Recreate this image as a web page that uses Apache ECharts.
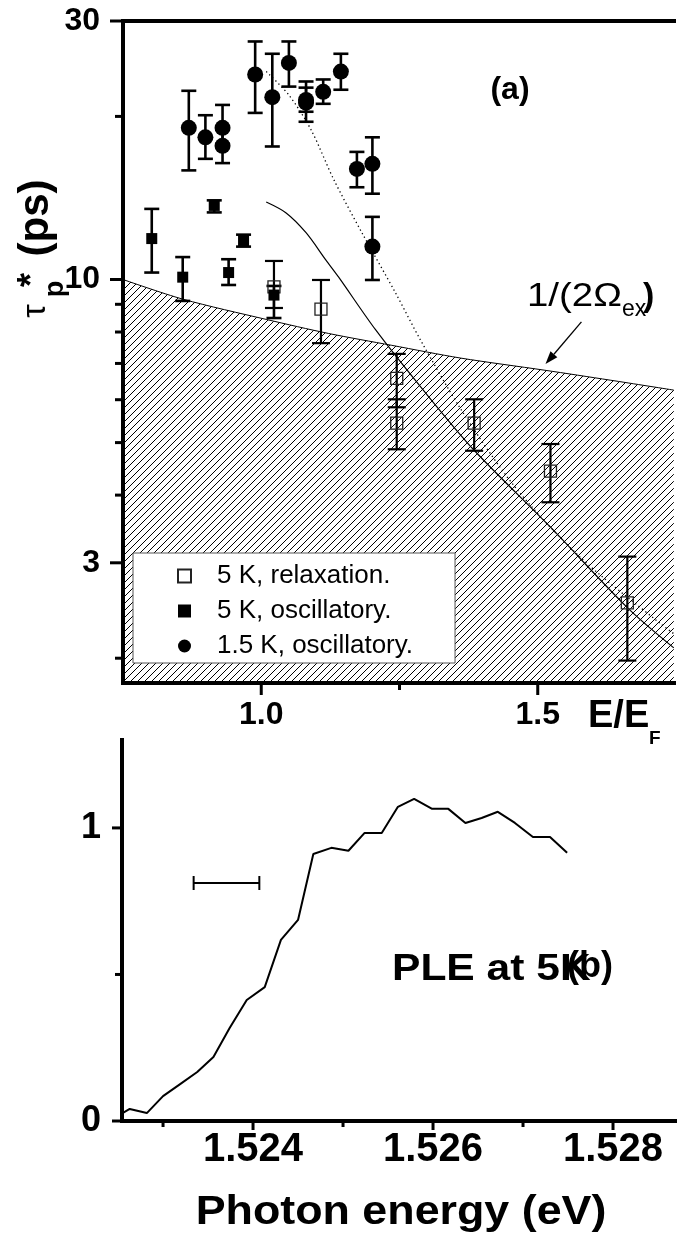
<!DOCTYPE html>
<html>
<head>
<meta charset="utf-8">
<script src="https://cdn.jsdelivr.net/npm/echarts@6/dist/echarts.min.js"></script>
<style>
html,body{margin:0;padding:0;background:#fff;}
#c{width:677px;height:1239px;}
</style>
</head>
<body>
<div id="c"></div>
<script>
const FONT = '"Liberation Sans", Arial, sans-serif';

// ---------- panel (a) data ----------
const relaxE   = [1.023, 1.108, 1.245, 1.245, 1.385, 1.523, 1.662];
const relaxTau = [9.69, 8.82, 6.57, 5.43, 5.43, 4.43, 2.53];
const relaxLo  = [8.86, 7.63, 5.81, 4.86, 4.83, 3.88, 1.98];
const relaxHi  = [10.82, 9.98, 7.29, 6.01, 6.01, 4.97, 3.08];

const osc5E   = [0.802, 0.858, 0.915, 0.941, 0.968, 1.023];
const osc5Tau = [11.9, 10.1, 13.7, 10.3, 11.8, 9.36];
const osc5Lo  = [10.3, 9.13, 13.3, 9.77, 11.5, 8.49];
const osc5Hi  = [13.5, 11.0, 14.0, 10.9, 12.1, 9.73];

const osc15E   = [0.869, 0.899, 0.930, 0.930, 0.989, 1.020, 1.050, 1.081, 1.081, 1.112, 1.144, 1.173, 1.201, 1.201];
const osc15Tau = [19.05, 18.3, 19.05, 17.65, 23.9, 21.7, 25.1, 21.45, 21.2, 22.2, 24.2, 16.0, 16.35, 11.5];
const osc15Lo  = [15.9, 16.7, 17.8, 16.4, 20.3, 17.6, 22.7, 20.4, 19.55, 21.1, 22.4, 14.8, 14.4, 9.98];
const osc15Hi  = [22.3, 20.1, 21.0, 18.9, 27.5, 26.1, 27.5, 23.2, 22.6, 23.4, 26.1, 17.2, 18.3, 13.05];

const omegaE   = [0.75, 0.858, 1.009, 1.122, 1.236, 1.361, 1.513, 1.631, 1.746];
const omegaTau = [10.0, 9.2, 8.44, 7.95, 7.56, 7.16, 6.80, 6.52, 6.25];

const solidE   = [1.009, 1.045, 1.081, 1.117, 1.140, 1.207, 1.293, 1.385, 1.523, 1.662, 1.746];
const solidTau = [13.9, 13.27, 12.2, 10.86, 10.1, 8.07, 6.25, 4.84, 3.49, 2.48, 2.09];

const dotE   = [1.009, 1.050, 1.090, 1.131, 1.182, 1.243, 1.288, 1.362, 1.459, 1.577, 1.721, 1.746];
const dotTau = [24.2, 21.9, 18.9, 15.3, 12.2, 9.44, 7.73, 5.74, 4.14, 3.07, 2.32, 2.22];

const arrowFrom = [1.579, 8.35];
const arrowTo   = [1.514, 6.98];

const tauMajor = [3, 10, 30];
const tauMinor = [2, 4, 5, 6, 7, 8, 9, 20];
const eMajor = [1.0, 1.5];
const eMinor = [1.25];

// ---------- panel (b) data ----------
const pleE = [1.52255, 1.52263, 1.52282, 1.52300, 1.52319, 1.52338, 1.52356, 1.52374, 1.52393, 1.52413,
              1.52431, 1.52450, 1.52467, 1.52487, 1.52506, 1.52524, 1.52543, 1.52561, 1.52579, 1.52599,
              1.52617, 1.52636, 1.52654, 1.52672, 1.52691, 1.52711, 1.52730, 1.52749];
const pleI = [0.027, 0.041, 0.027, 0.085, 0.126, 0.167, 0.218, 0.317, 0.413, 0.457,
              0.618, 0.686, 0.911, 0.932, 0.922, 0.983, 0.983, 1.072, 1.099, 1.065,
              1.065, 1.017, 1.034, 1.055, 1.017, 0.969, 0.969, 0.915];
const resBar = [1.52334, 1.52407, 0.812];

const phMajor = [1.524, 1.526, 1.528];
const phMinor = [1.523, 1.525, 1.527];
const pleMajor = [0, 1];
const pleMinor = [0.5];

// axis ranges
const E_MIN = 0.75, E_MAX = 1.7464, TAU_MIN = 1.8, TAU_MAX = 30;
const PH_MIN = 1.522544, PH_MAX = 1.528711, I_MIN = 0, I_MAX = 1.3;

function hatchPattern() {
  const s = 7;
  const c = document.createElement('canvas');
  c.width = s; c.height = s;
  const ctx = c.getContext('2d');
  ctx.strokeStyle = '#000';
  ctx.lineWidth = 1;
  ctx.beginPath();
  ctx.moveTo(0, s); ctx.lineTo(s, 0);
  ctx.moveTo(-2, 2); ctx.lineTo(2, -2);
  ctx.moveTo(s - 2, s + 2); ctx.lineTo(s + 2, s - 2);
  ctx.stroke();
  return c;
}

function errBar(capHalf, lw) {
  return function (params, api) {
    const x = api.value(0);
    const a = api.coord([x, api.value(1)]);
    const b = api.coord([x, api.value(2)]);
    const s = { stroke: '#000', lineWidth: lw };
    return { type: 'group', children: [
      { type: 'line', shape: { x1: a[0], y1: a[1], x2: b[0], y2: b[1] }, style: s },
      { type: 'line', shape: { x1: a[0] - capHalf, y1: a[1], x2: a[0] + capHalf, y2: a[1] }, style: s },
      { type: 'line', shape: { x1: b[0] - capHalf, y1: b[1], x2: b[0] + capHalf, y2: b[1] }, style: s }
    ]};
  };
}

// tick series: dir 'y' -> ticks pointing left from the y axis; 'x' -> ticks pointing down from the x axis
function tickSeries(xi, yi, dir, anchor, values, len, labelFmt, labelFont, gap) {
  return {
    type: 'custom', xAxisIndex: xi, yAxisIndex: yi, clip: false, silent: true, z: 6,
    data: values.map(v => dir === 'y' ? [anchor, v] : [v, anchor]),
    encode: { x: 0, y: 1 },
    renderItem: function (params, api) {
      const p = api.coord([api.value(0), api.value(1)]);
      const children = [];
      if (dir === 'y') {
        children.push({ type: 'line', shape: { x1: p[0] - len, y1: p[1], x2: p[0], y2: p[1] }, style: { stroke: '#000', lineWidth: 3 } });
        if (labelFmt) children.push({ type: 'text', x: p[0] - len - gap, y: p[1],
          style: { text: labelFmt(api.value(1)), align: 'right', verticalAlign: 'middle', font: labelFont, fill: '#000' } });
      } else {
        children.push({ type: 'line', shape: { x1: p[0], y1: p[1], x2: p[0], y2: p[1] + len }, style: { stroke: '#000', lineWidth: 3 } });
      }
      return { type: 'group', children: children };
    }
  };
}

const chart = echarts.init(document.getElementById('c'), null, { renderer: 'canvas' });

const axisLine4 = { show: true, onZero: false, lineStyle: { color: '#000', width: 4, cap: 'square' } };

const option = {
  animation: false,
  backgroundColor: '#fff',
  grid: [
    { left: 123, top: 21, width: 554, height: 662 },
    { left: 122, top: 740, width: 555, height: 381 }
  ],
  xAxis: [
    { gridIndex: 0, type: 'value', min: E_MIN, max: E_MAX, interval: 0.25, position: 'bottom',
      axisLine: axisLine4, axisTick: { show: false }, splitLine: { show: false },
      axisLabel: { margin: 16, color: '#000', fontFamily: FONT, fontSize: 32, fontWeight: 'bold',
        formatter: v => Math.abs(v - 1) < 1e-9 ? '1.0' : (Math.abs(v - 1.5) < 1e-9 ? '1.5' : '') } },
    { gridIndex: 0, type: 'value', min: E_MIN, max: E_MAX, position: 'top',
      axisLine: axisLine4, axisTick: { show: false }, axisLabel: { show: false }, splitLine: { show: false } },
    { gridIndex: 1, type: 'value', min: PH_MIN, max: PH_MAX, position: 'bottom',
      axisLine: axisLine4, axisTick: { show: false }, splitLine: { show: false },
      axisLabel: { customValues: phMajor, margin: 9, color: '#000', fontFamily: FONT, fontSize: 40, fontWeight: 'bold',
        formatter: v => Number(v).toFixed(3) } }
  ],
  yAxis: [
    { gridIndex: 0, type: 'log', logBase: 10, min: TAU_MIN, max: TAU_MAX,
      axisLine: axisLine4, axisTick: { show: false }, axisLabel: { show: false }, splitLine: { show: false } },
    { gridIndex: 1, type: 'value', min: I_MIN, max: I_MAX, interval: 0.5,
      axisLine: axisLine4, axisTick: { show: false }, splitLine: { show: false },
      axisLabel: { margin: 21, color: '#000', fontFamily: FONT, fontSize: 36, fontWeight: 'bold',
        formatter: v => Math.abs(v) < 1e-9 ? '0' : (Math.abs(v - 1) < 1e-9 ? '1' : '') } }
  ],
  legend: {
    left: 133, top: 553, orient: 'vertical', selectedMode: false, z: 10,
    backgroundColor: '#fff', borderColor: '#555', borderWidth: 1,
    padding: [10, 42, 4, 44], itemGap: 9, itemWidth: 13, itemHeight: 13,
    formatter: name => '{t|' + name + '}',
    textStyle: { color: '#000', fontFamily: FONT, fontSize: 26, lineHeight: 26,
      rich: { t: { padding: [0, 0, 0, 21], color: '#000', fontFamily: FONT, fontSize: 26, lineHeight: 26 } } },
    data: ['5 K, relaxation.', '5 K, oscillatory.', '1.5 K, oscillatory.']
  },
  series: [
    { name: 'omega', type: 'line', xAxisIndex: 0, yAxisIndex: 0, z: 1, silent: true,
      data: omegaE.map((e, i) => [e, omegaTau[i]]), smooth: 0.3, symbol: 'none',
      lineStyle: { color: '#000', width: 1 },
      areaStyle: { origin: 'start', opacity: 1, color: { image: hatchPattern(), repeat: 'repeat' } } },
    { name: 'theory', type: 'line', xAxisIndex: 0, yAxisIndex: 0, z: 2, silent: true,
      data: solidE.map((e, i) => [e, solidTau[i]]), smooth: 0.3, symbol: 'none',
      lineStyle: { color: '#000', width: 1.2 } },
    { name: 'theory2', type: 'line', xAxisIndex: 0, yAxisIndex: 0, z: 2, silent: true,
      data: dotE.map((e, i) => [e, dotTau[i]]), smooth: 0.3, symbol: 'none',
      lineStyle: { color: '#000', width: 1.3, type: [1.3, 3] } },
    { type: 'custom', xAxisIndex: 0, yAxisIndex: 0, z: 3, clip: false, silent: true,
      encode: { x: 0, y: [1, 2] }, renderItem: errBar(9, 2.2),
      data: relaxE.map((e, i) => [e, relaxLo[i], relaxHi[i]]) },
    { type: 'custom', xAxisIndex: 0, yAxisIndex: 0, z: 3, clip: false, silent: true,
      encode: { x: 0, y: [1, 2] }, renderItem: errBar(7.5, 2.6),
      data: osc5E.map((e, i) => [e, osc5Lo[i], osc5Hi[i]]) },
    { type: 'custom', xAxisIndex: 0, yAxisIndex: 0, z: 3, clip: false, silent: true,
      encode: { x: 0, y: [1, 2] }, renderItem: errBar(7.5, 2.6),
      data: osc15E.map((e, i) => [e, osc15Lo[i], osc15Hi[i]]) },
    { name: '5 K, relaxation.', type: 'scatter', xAxisIndex: 0, yAxisIndex: 0, z: 4,
      symbol: 'rect', symbolSize: 12,
      itemStyle: { color: 'rgba(255,255,255,0)', borderColor: '#222', borderWidth: 1.3, opacity: 1 },
      data: relaxE.map((e, i) => [e, relaxTau[i]]) },
    { name: '5 K, oscillatory.', type: 'scatter', xAxisIndex: 0, yAxisIndex: 0, z: 4,
      symbol: 'rect', symbolSize: 11, itemStyle: { color: '#000', opacity: 1 },
      data: osc5E.map((e, i) => [e, osc5Tau[i]]) },
    { name: '1.5 K, oscillatory.', type: 'scatter', xAxisIndex: 0, yAxisIndex: 0, z: 4,
      symbol: 'circle', symbolSize: 16, itemStyle: { color: '#000', opacity: 1 },
      data: osc15E.map((e, i) => [e, osc15Tau[i]]) },
    // arrow annotation
    { type: 'custom', xAxisIndex: 0, yAxisIndex: 0, z: 5, clip: false, silent: true,
      encode: { x: [0, 2], y: [1, 3] },
      data: [[arrowFrom[0], arrowFrom[1], arrowTo[0], arrowTo[1]]],
      renderItem: function (params, api) {
        const a = api.coord([api.value(0), api.value(1)]);
        const b = api.coord([api.value(2), api.value(3)]);
        const dx = b[0] - a[0], dy = b[1] - a[1], L = Math.sqrt(dx * dx + dy * dy);
        const ux = dx / L, uy = dy / L, hl = 13, hw = 4.5;
        const bx = b[0] - ux * hl, by = b[1] - uy * hl;
        return { type: 'group', children: [
          { type: 'line', shape: { x1: a[0], y1: a[1], x2: bx, y2: by }, style: { stroke: '#000', lineWidth: 1.3 } },
          { type: 'polygon', shape: { points: [[b[0], b[1]], [bx - uy * hw, by + ux * hw], [bx + uy * hw, by - ux * hw]] },
            style: { fill: '#000' } }
        ]};
      } },
    // ticks panel (a)
    tickSeries(0, 0, 'y', E_MIN, tauMajor, 13, v => String(Math.round(v)), 'bold 32px ' + FONT, 10),
    tickSeries(0, 0, 'y', E_MIN, tauMinor, 8, null),
    tickSeries(0, 0, 'x', TAU_MIN, eMajor, 12, null),
    tickSeries(0, 0, 'x', TAU_MIN, eMinor, 7, null),
    // panel (b)
    { name: 'PLE', type: 'line', xAxisIndex: 2, yAxisIndex: 1, z: 2, silent: true,
      data: pleE.map((e, i) => [e, pleI[i]]), symbol: 'none',
      lineStyle: { color: '#000', width: 2 } },
    { type: 'custom', xAxisIndex: 2, yAxisIndex: 1, z: 3, clip: false, silent: true,
      encode: { x: [0, 1], y: 2 },
      data: [resBar],
      renderItem: function (params, api) {
        const a = api.coord([api.value(0), api.value(2)]);
        const b = api.coord([api.value(1), api.value(2)]);
        const s = { stroke: '#000', lineWidth: 2 };
        return { type: 'group', children: [
          { type: 'line', shape: { x1: a[0], y1: a[1], x2: b[0], y2: b[1] }, style: s },
          { type: 'line', shape: { x1: a[0], y1: a[1] - 7, x2: a[0], y2: a[1] + 7 }, style: s },
          { type: 'line', shape: { x1: b[0], y1: b[1] - 7, x2: b[0], y2: b[1] + 7 }, style: s }
        ]};
      } },
    tickSeries(2, 1, 'y', PH_MIN, pleMajor, 10, null),
    tickSeries(2, 1, 'y', PH_MIN, pleMinor, 7, null),
    tickSeries(2, 1, 'x', I_MIN, phMajor, 9, null),
    tickSeries(2, 1, 'x', I_MIN, phMinor, 6, null)
  ],
  graphic: [
    // y-axis title of (a): tau_p* (ps), rotated
    { type: 'text', x: 36, y: 218, rotation: Math.PI / 2, silent: true,
      style: { text: '(ps)', font: 'bold 42px ' + FONT, fill: '#000', align: 'center', verticalAlign: 'middle' } },
    { type: 'text', x: 33, y: 280, rotation: Math.PI / 2, silent: true,
      style: { text: '*', font: 'bold 36px ' + FONT, fill: '#000', align: 'center', verticalAlign: 'middle' } },
    { type: 'text', x: 56, y: 289, rotation: Math.PI / 2, silent: true,
      style: { text: 'p', font: 'bold 27px ' + FONT, fill: '#000', align: 'center', verticalAlign: 'middle' } },
    { type: 'text', x: 36, y: 311, rotation: Math.PI / 2, silent: true,
      style: { text: 'τ', font: '34px ' + FONT, fill: '#000', align: 'center', verticalAlign: 'middle' } },
    // (a) label
    { type: 'text', x: 510, y: 90, silent: true,
      style: { text: '(a)', font: 'bold 32px ' + FONT, fill: '#000', align: 'center', verticalAlign: 'middle' } },
    // 1/(2 Omega_ex)
    { type: 'text', x: 527, y: 297, scaleX: 1.13, silent: true,
      style: { text: '1/(2Ω', font: '34px ' + FONT, fill: '#000', align: 'left', verticalAlign: 'middle' } },
    { type: 'text', x: 622, y: 310, silent: true,
      style: { text: 'ex', font: '23px ' + FONT, fill: '#000', align: 'left', verticalAlign: 'middle' } },
    { type: 'text', x: 643, y: 297, silent: true,
      style: { text: ')', font: 'bold 34px ' + FONT, fill: '#000', align: 'left', verticalAlign: 'middle' } },
    // E/E_F
    { type: 'text', x: 588, y: 717, silent: true,
      style: { text: 'E/E', font: 'bold 38px ' + FONT, fill: '#000', align: 'left', verticalAlign: 'middle' } },
    { type: 'text', x: 649, y: 739, silent: true,
      style: { text: 'F', font: 'bold 19px ' + FONT, fill: '#000', align: 'left', verticalAlign: 'middle' } },
    // panel (b) texts
    { type: 'text', x: 392, y: 970, scaleX: 1.15, silent: true,
      style: { text: 'PLE at 5K', font: 'bold 37px ' + FONT, fill: '#000', align: 'left', verticalAlign: 'middle' } },
    { type: 'text', x: 567, y: 967, silent: true,
      style: { text: '(b)', font: 'bold 36px ' + FONT, fill: '#000', align: 'left', verticalAlign: 'middle' } },
    { type: 'text', x: 401, y: 1213, scaleX: 1.12, silent: true,
      style: { text: 'Photon energy (eV)', font: 'bold 40px ' + FONT, fill: '#000', align: 'center', verticalAlign: 'middle' } }
  ]
};

chart.setOption(option);
</script>
</body>
</html>
